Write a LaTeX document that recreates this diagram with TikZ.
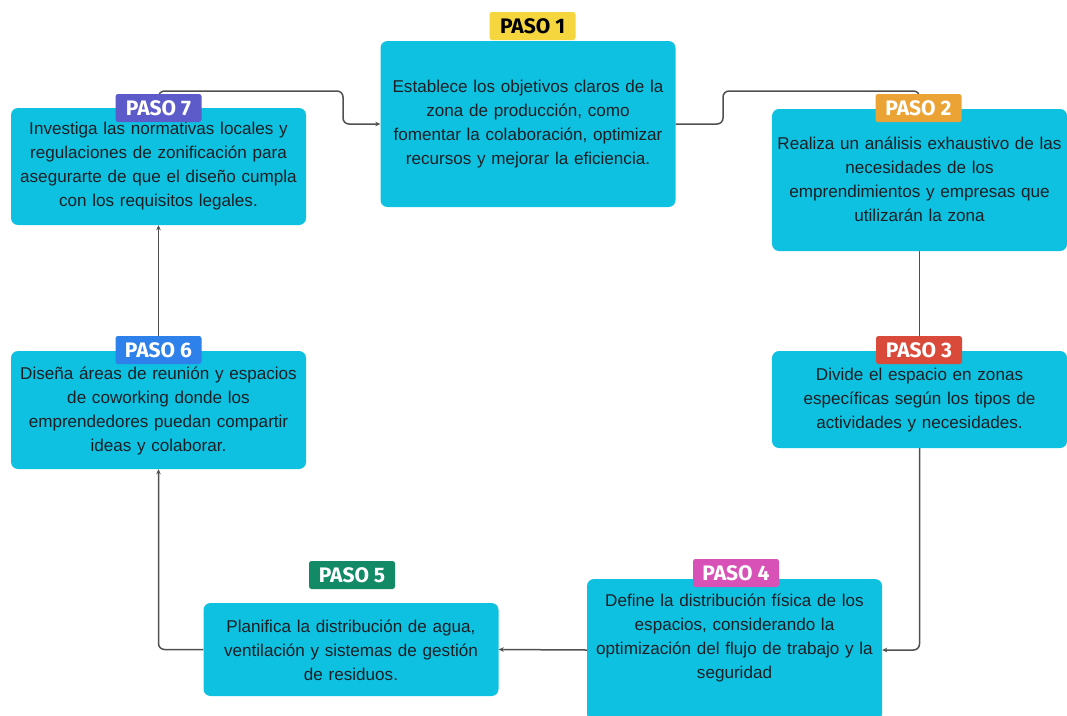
\documentclass[tikz,border=0pt]{standalone}
\usepackage{fontspec}
\setmainfont{Liberation Sans}
\newfontfamily\badgefont{Fira Sans}
\usetikzlibrary{arrows.meta}
\pgfdeclarelayer{background}
\pgfdeclarelayer{paper}
\pgfsetlayers{paper,background,main}
\definecolor{boxcyan}{HTML}{0FC1E0}
\definecolor{txtdark}{HTML}{1B1F24}
\definecolor{linegray}{HTML}{505050}
\definecolor{cYellow}{HTML}{F6D63F}
\definecolor{cOrange}{HTML}{ECA335}
\definecolor{cRed}{HTML}{DA4A3B}
\definecolor{cPink}{HTML}{D751B6}
\definecolor{cGreen}{HTML}{128A66}
\definecolor{cBlue}{HTML}{2E80EA}
\definecolor{cPurple}{HTML}{5C5BC9}
\tikzset{
  stepbox/.style={fill=boxcyan, draw=none, rounded corners=7pt,
    minimum width=295pt, inner sep=0pt},
  steptext/.style={text=txtdark, align=center, text width=292pt,
    font=\fontsize{17.1}{24}\selectfont, inner sep=0pt},
  badge/.style={fill=#1, text=white, rounded corners=2.5pt,
    minimum width=86pt, minimum height=28pt, inner sep=0pt,
    font=\badgefont\bfseries\fontsize{21}{21}\selectfont},
  conn/.style={draw=linegray, line width=1.5pt, rounded corners=6pt},
  arr/.style={conn, -{Stealth[length=5pt,width=4.5pt]}}
}
\begin{document}
\begin{tikzpicture}[x=1pt,y=-1pt]
\useasboundingbox (0,0) rectangle (1067,715);
\clip (0,0) rectangle (1067,715);
\begin{pgfonlayer}{paper}
  \fill[white] (0,0) rectangle (1067,715);
\end{pgfonlayer}

% step boxes
\node[stepbox, minimum height=166pt] (p1) at (528,124) {};
\node[stepbox, minimum height=142pt] (p2) at (919.5,180) {};
\node[stepbox, minimum height=97pt]  (p3) at (919.5,399.5) {};
\node[stepbox, minimum height=142pt] (p4) at (734.5,650) {};
\node[stepbox, minimum height=93pt]  (p5) at (351,649.5) {};
\node[stepbox, minimum height=118pt] (p6) at (158.5,410) {};
\node[stepbox, minimum height=117pt] (p7) at (158.5,166.5) {};

% step texts
\node[steptext] (t1) at (528,124) {Establece los objetivos claros de la\\zona de producción, como\\fomentar la colaboración, optimizar\\recursos y mejorar la eficiencia.};
\node[steptext] (t2) at (919.5,179.5) {Realiza un análisis exhaustivo de las\\necesidades de los\\emprendimientos y empresas que\\utilizarán la zona};
\node[steptext] (t3) at (919.5,400) {Divide el espacio en zonas\\específicas según los tipos de\\actividades y necesidades.};
\node[steptext] (t4) at (734.5,638) {Define la distribución física de los\\espacios, considerando la\\optimización del flujo de trabajo y la\\seguridad};
\node[steptext] (t5) at (351,650) {Planifica la distribución de agua,\\ventilación y sistemas de gestión\\de residuos.};
\node[steptext] (t6) at (158.5,411) {Diseña áreas de reunión y espacios\\de coworking donde los\\emprendedores puedan compartir\\ideas y colaborar.};
\node[steptext] (t7) at (158.5,166.5) {Investiga las normativas locales y\\regulaciones de zonificación para\\asegurarte de que el diseño cumpla\\con los requisitos legales.};

% connectors, behind boxes and badges
\begin{pgfonlayer}{background}
  \coordinate (k71) at (343,91);
  \coordinate (k12) at (723,91);
  \draw[arr] (p7.north) |- (k71) |- (p1.west);
  \draw[conn] (p1.east) -| (k12) -| (p2.north);
  \draw[conn] (p2.south) -- (p3.north);
  \draw[arr] (p3.south) |- (p4.east);
  \draw[arr] (p4.west) -- (p5.east);
  \draw[arr] (p5.west) -| (p6.south);
  \draw[arr] (p6.north) -- (p7.south);
\end{pgfonlayer}

% step badges
\node[badge=cYellow, text=black] (b1) at (532.5,26) {PASO 1};
\node[badge=cOrange] (b2) at (918.5,108) {PASO 2};
\node[badge=cRed]    (b3) at (919,350) {PASO 3};
\node[badge=cPink]   (b4) at (736,573) {PASO 4};
\node[badge=cGreen]  (b5) at (352,575) {PASO 5};
\node[badge=cBlue]   (b6) at (158.5,350) {PASO 6};
\node[badge=cPurple] (b7) at (158.5,108) {PASO 7};
\end{tikzpicture}
\end{document}
